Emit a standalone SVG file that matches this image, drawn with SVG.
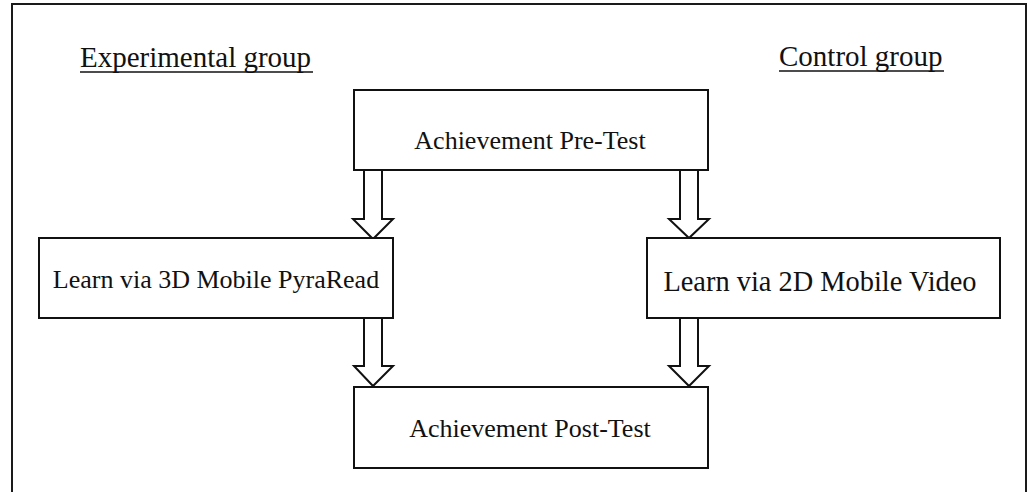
<svg xmlns="http://www.w3.org/2000/svg" width="1034" height="492" viewBox="0 0 1034 492">
<style>
.frame{fill:none;stroke:#1a1a1a;stroke-width:2}
.box{fill:#fff;stroke:#111;stroke-width:2}
.arrow{fill:#fff;stroke:#111;stroke-width:2;stroke-linejoin:miter}
.t{font-family:"Liberation Serif","Times New Roman",serif;fill:#111;text-anchor:middle}
.h{font-family:"Liberation Serif","Times New Roman",serif;fill:#111;font-size:29px}
.ul{stroke:#111;stroke-width:1.5}
</style>
<rect width="1034" height="492" fill="#fff"/>
<path class="frame" d="M12,500 V4 H1026 V500"/>
<g id="label-experimental">
<text class="h" x="80" y="67">Experimental group</text>
<line class="ul" x1="80" y1="72" x2="313" y2="72"/>
</g>
<g id="label-control">
<text class="h" x="779" y="66">Control group</text>
<line class="ul" x1="779" y1="71" x2="944" y2="71"/>
</g>
<g id="connectors">
<polyline class="arrow" points="364,170 364,219 353,219 373,239 393,219 382,219 382,170"/>
<polyline class="arrow" points="680,170 680,219 669,219 689,238 709,219 698,219 698,170"/>
<polyline class="arrow" points="364,318 364,366 354,366 373,386 393,366 382,366 382,318"/>
<polyline class="arrow" points="680,318 680,366 669,366 689,386 709,366 698,366 698,318"/>
</g>
<g id="node-pretest">
<rect class="box" x="354" y="90" width="354" height="80"/>
<text class="t" x="530" y="149" font-size="26">Achievement Pre-Test</text>
</g>
<g id="node-3d">
<rect class="box" x="39" y="238" width="354" height="80"/>
<text class="t" x="216" y="288" font-size="26">Learn via 3D Mobile PyraRead</text>
</g>
<g id="node-2d">
<rect class="box" x="647" y="238" width="353" height="80"/>
<text class="t" x="820" y="291" font-size="28.4">Learn via 2D Mobile Video</text>
</g>
<g id="node-posttest">
<rect class="box" x="354" y="387" width="354" height="81"/>
<text class="t" x="530" y="437" font-size="26">Achievement Post-Test</text>
</g>
</svg>
